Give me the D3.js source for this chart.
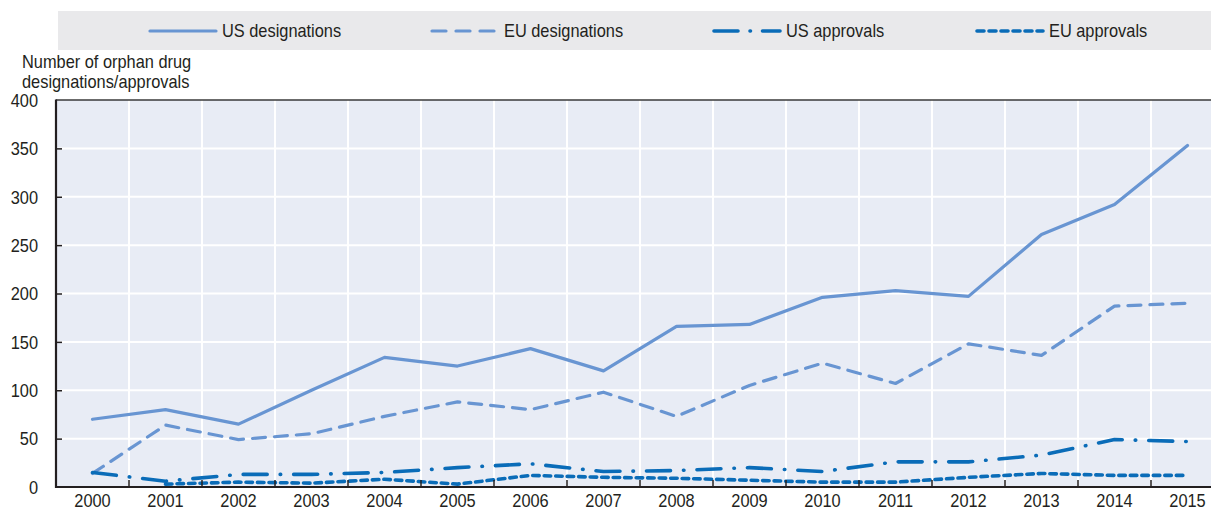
<!DOCTYPE html>
<html><head><meta charset="utf-8">
<script src="https://cdn.jsdelivr.net/npm/d3@7"></script>
<style>
body{margin:0;background:#fff}
svg{display:block}
text{font-family:"Liberation Sans",Arial,Helvetica,sans-serif;fill:#231f20}
</style>
</head><body>
<svg id="chart" width="1211" height="512"></svg>
<script>
// ---- data ----
const years = ["2000","2001","2002","2003","2004","2005","2006","2007","2008","2009","2010","2011","2012","2013","2014","2015"];
const usDesignations = [70,80,65,100,134,125,143,120,166,168,196,203,197,261,292,353];
const euDesignations = [14,64,49,55,73,88,80,98,73,105,128,107,148,136,187,190];
const usApprovals   = [15,6,13,13,15,20,24,16,17,20,16,26,26,33,49,47];
const euApprovals   = [null,3,5,4,8,3,12,10,9,7,5,5,10,14,12,12];
const yTicks = [0,50,100,150,200,250,300,350,400];
const seriesNames = ["US designations","EU designations","US approvals","EU approvals"];
const yTitle = ["Number of orphan drug","designations/approvals"];

(function(){
// ---- styles ----
const light = "#6895d2", dark = "#0a6cb8";
const styles = [
  {color: light, width: 3.2, dash: null, cap: "round"},
  {color: light, width: 3.2, dash: "13,9", cap: "round"},
  {color: dark, width: 3.6, dash: "24,13,0.5,13", cap: "round"},
  {color: dark, width: 3.6, dash: "6.5,5", cap: "round"}
];
const seriesValues = [usDesignations, euDesignations, usApprovals, euApprovals];

const svg = d3.select("#chart");
const W = 1211;
const pLeft = 56, pTop = 100, pBottom = 487, step = 73;
const x = d3.scaleBand().domain(years).range([pLeft, pLeft + step * years.length]);
const y = d3.scaleLinear().domain([0, 400]).range([pBottom, pTop]);
const SX = 0.91;

// legend
svg.append("rect").attr("x", 58).attr("y", 11).attr("width", W - 58).attr("height", 39).attr("fill", "#e9e9eb");
const legX = [148, 430, 712, 975];
const legDash = [null, "14,10", "24,12,0.5,12", "7,5"];
seriesNames.forEach((name, i) => {
  const g = svg.append("g").attr("transform", `translate(${legX[i]},31)`);
  g.append("line").attr("x1", 2).attr("x2", 68).attr("y1", 0).attr("y2", 0)
    .attr("stroke", styles[i].color).attr("stroke-width", styles[i].width)
    .attr("stroke-dasharray", legDash[i])
    .attr("stroke-linecap", "round");
  g.append("text").attr("transform", `translate(74,6) scale(${SX},1)`).attr("font-size", 18).text(name);
});

// y title
yTitle.forEach((t, i) => {
  svg.append("text").attr("transform", `translate(22,${68 + i * 20}) scale(${SX},1)`).attr("font-size", 18).text(t);
});

// plot background
svg.append("rect").attr("x", pLeft).attr("y", pTop).attr("width", W - pLeft).attr("height", pBottom - pTop).attr("fill", "#e8ecf5");

// grid
svg.append("g").selectAll("line").data(yTicks.filter(d => d > 0 && d < 400)).join("line")
  .attr("x1", pLeft).attr("x2", W).attr("y1", d => y(d)).attr("y2", d => y(d))
  .attr("stroke", "#fff").attr("stroke-width", 2);
svg.append("g").selectAll("line").data(years.slice(1)).join("line")
  .attr("x1", d => x(d)).attr("x2", d => x(d)).attr("y1", pTop).attr("y2", pBottom)
  .attr("stroke", "#fff").attr("stroke-width", 2);

// top border
svg.append("line").attr("x1", pLeft).attr("x2", W).attr("y1", pTop).attr("y2", pTop).attr("stroke", "#3a3a3a").attr("stroke-width", 1.5);

// lines
const line = d3.line().defined(d => d.v != null).x(d => x(d.yr) + x.bandwidth() / 2).y(d => y(d.v));
seriesValues.forEach((vals, i) => {
  const data = years.map((yr, j) => ({yr, v: vals[j]}));
  svg.append("path").datum(data).attr("d", line).attr("fill", "none")
    .attr("stroke", styles[i].color).attr("stroke-width", styles[i].width)
    .attr("stroke-dasharray", styles[i].dash).attr("stroke-linecap", styles[i].cap)
    .attr("stroke-linejoin", "round");
});

// y axis
const yAxis = svg.append("g").attr("transform", `translate(${pLeft},0)`)
  .call(d3.axisLeft(y).tickValues(yTicks).tickSize(-6).tickPadding(18));
yAxis.select(".domain").remove();
yAxis.selectAll(".tick line").attr("stroke", "#231f20").attr("stroke-width", 1.5);
yAxis.selectAll(".tick line").filter(d => d === 0 || d === 400).remove();
yAxis.selectAll(".tick text").attr("font-size", 18).attr("font-family", null)
  .attr("transform", `scale(${SX},1)`).attr("x", -18 / SX).attr("dy", "0.35em");
svg.append("line").attr("x1", pLeft).attr("x2", pLeft).attr("y1", pTop - 0.5).attr("y2", pBottom + 1).attr("stroke", "#231f20").attr("stroke-width", 2.2);

// x axis
const xAxis = svg.append("g").attr("transform", `translate(0,${pBottom})`)
  .call(d3.axisBottom(x).tickSize(0).tickPadding(7.5));
xAxis.select(".domain").remove();
xAxis.selectAll(".tick text").attr("font-size", 18).attr("font-family", null).attr("transform", `scale(${SX},1)`);
svg.append("g").selectAll("line").data(years.slice(1)).join("line")
  .attr("x1", d => x(d)).attr("x2", d => x(d)).attr("y1", pBottom - 7).attr("y2", pBottom)
  .attr("stroke", "#231f20").attr("stroke-width", 1.5);
svg.append("line").attr("x1", pLeft - 1).attr("x2", W).attr("y1", pBottom).attr("y2", pBottom).attr("stroke", "#231f20").attr("stroke-width", 2.2);
})();
</script>
</body></html>
